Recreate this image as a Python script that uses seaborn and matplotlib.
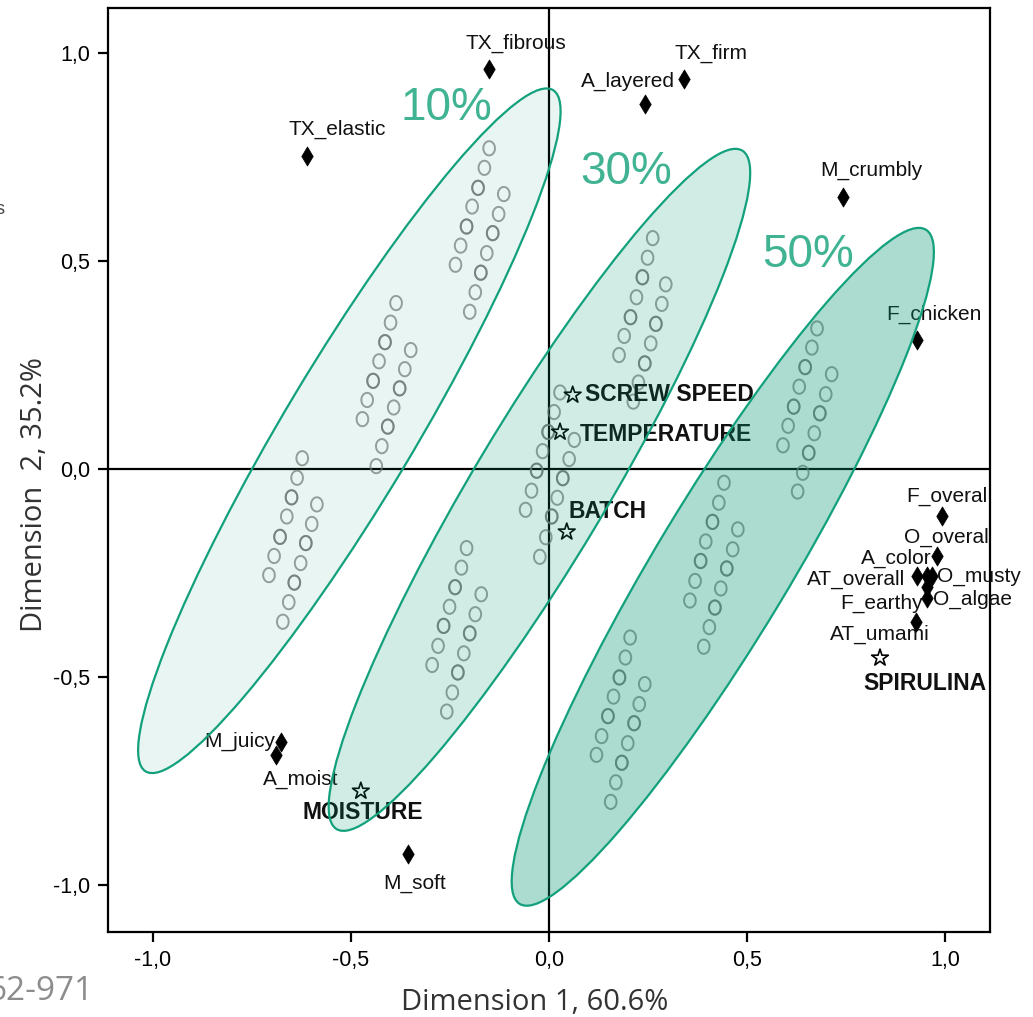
import numpy as np
import pandas as pd
import matplotlib
matplotlib.use("Agg")
import matplotlib.pyplot as plt
import seaborn as sns
from matplotlib.patches import Ellipse
from matplotlib.path import Path

# ---------------- data ----------------
# sensory attributes (black diamonds)
attr_names = ['TX_fibrous', 'TX_firm', 'A_layered', 'TX_elastic', 'M_crumbly',
              'F_chicken', 'F_overal', 'O_overal', 'A_color', 'AT_overall',
              'O_musty', 'O_algae', 'F_earthy', 'AT_umami', 'M_juicy',
              'A_moist', 'M_soft']
attr_x = [-0.152, 0.341, 0.242, -0.611, 0.742, 0.929, 0.992, 0.980, 0.955, 0.929,
          0.967, 0.955, 0.955, 0.927, -0.677, -0.689, -0.356]
attr_y = [0.963, 0.939, 0.878, 0.754, 0.655, 0.311, -0.112, -0.208, -0.256, -0.256,
          -0.256, -0.282, -0.309, -0.367, -0.655, -0.686, -0.924]

# process factors (open stars)
factor_names = ['SCREW SPEED', 'TEMPERATURE', 'BATCH', 'SPIRULINA', 'MOISTURE']
factor_x = [0.060, 0.028, 0.045, 0.836, -0.475]
factor_y = [0.179, 0.090, -0.150, -0.453, -0.773]

# samples (open circles) per spirulina level
levels = ['10%', '30%', '50%']
samples_x_10 = [-0.151, -0.163, -0.179, -0.194, -0.208, -0.223, -0.236,
                -0.114, -0.127, -0.142, -0.157, -0.172, -0.186, -0.200,
                -0.386, -0.400, -0.414, -0.429, -0.444, -0.459, -0.471,
                -0.349, -0.364, -0.377, -0.392, -0.407, -0.422, -0.436,
                -0.623, -0.636, -0.650, -0.662, -0.679, -0.694, -0.707,
                -0.586, -0.599, -0.614, -0.627, -0.643, -0.657, -0.672]
samples_y_10 = [0.772, 0.725, 0.677, 0.632, 0.584, 0.538, 0.492,
                0.662, 0.614, 0.568, 0.520, 0.473, 0.426, 0.379,
                0.400, 0.353, 0.306, 0.260, 0.213, 0.167, 0.121,
                0.287, 0.241, 0.195, 0.149, 0.103, 0.056, 0.008,
                0.027, -0.020, -0.067, -0.113, -0.162, -0.208, -0.254,
                -0.084, -0.131, -0.177, -0.225, -0.272, -0.319, -0.366]
samples_x_30 = [0.262, 0.249, 0.236, 0.221, 0.206, 0.190, 0.177,
                0.295, 0.285, 0.270, 0.257, 0.242, 0.226, 0.213,
                0.028, 0.013, -0.002, -0.016, -0.031, -0.044, -0.059,
                0.064, 0.051, 0.035, 0.021, 0.007, -0.008, -0.023,
                -0.208, -0.221, -0.237, -0.251, -0.266, -0.280, -0.295,
                -0.171, -0.186, -0.200, -0.215, -0.230, -0.244, -0.258]
samples_y_30 = [0.556, 0.509, 0.462, 0.414, 0.366, 0.321, 0.275,
                0.445, 0.398, 0.350, 0.303, 0.255, 0.209, 0.163,
                0.185, 0.138, 0.090, 0.044, -0.003, -0.051, -0.097,
                0.071, 0.025, -0.021, -0.068, -0.113, -0.163, -0.210,
                -0.189, -0.236, -0.283, -0.330, -0.376, -0.424, -0.470,
                -0.300, -0.348, -0.394, -0.442, -0.488, -0.536, -0.582]
samples_x_50 = [0.677, 0.664, 0.647, 0.632, 0.618, 0.604, 0.591,
                0.714, 0.699, 0.684, 0.670, 0.656, 0.641, 0.628,
                0.442, 0.429, 0.413, 0.396, 0.383, 0.369, 0.356,
                0.477, 0.464, 0.449, 0.434, 0.419, 0.405, 0.391,
                0.205, 0.193, 0.178, 0.163, 0.149, 0.133, 0.120,
                0.242, 0.228, 0.215, 0.199, 0.184, 0.169, 0.156]
samples_y_50 = [0.339, 0.293, 0.246, 0.199, 0.151, 0.105, 0.058,
                0.229, 0.181, 0.135, 0.087, 0.040, -0.008, -0.053,
                -0.032, -0.080, -0.126, -0.173, -0.220, -0.268, -0.315,
                -0.144, -0.192, -0.238, -0.286, -0.332, -0.379, -0.426,
                -0.404, -0.452, -0.500, -0.546, -0.593, -0.641, -0.686,
                -0.516, -0.564, -0.610, -0.658, -0.705, -0.752, -0.799]
# number of coinciding samples at each position of a row of 7
overlap = [1, 1, 2, 1, 2, 1, 1]

# confidence ellipses
ell_cx = [-0.504, -0.024, 0.439]
ell_cy = [0.093, -0.049, -0.234]
ell_a = [0.967, 0.963, 0.959]
ell_b = [0.163, 0.167, 0.168]
ell_angle = [57.8, 57.8, 57.6]

# ---------------- styling / label placement ----------------
# label offsets in pixels from the marker (right, down)
attr_off = {'TX_fibrous': (27, -25), 'TX_firm': (27, -25), 'A_layered': (-17, -23),
            'TX_elastic': (30, -26), 'M_crumbly': (29, -27), 'F_chicken': (17, -26),
            'F_overal': (5, -20), 'O_overal': (9, -19), 'A_color': (-31, -18),
            'AT_overall': (-61, 3), 'O_musty': (47, 1), 'O_algae': (45, 13),
            'F_earthy': (-46, 5), 'AT_umami': (-36, 12), 'M_juicy': (-41, -1),
            'A_moist': (25, 25), 'M_soft': (7, 30)}
factor_off = {'SCREW SPEED': (97, 0), 'TEMPERATURE': (106, 2), 'BATCH': (41, -20),
              'SPIRULINA': (45, 26), 'MOISTURE': (2, 21)}
level_label_pos = [(-0.260, 0.869), (0.194, 0.715), (0.654, 0.515)]
ell_alpha = [0.085, 0.18, 0.33]

# slightly tall open circle used by the sample markers
t = np.linspace(0, 2 * np.pi, 40)
oval = Path(np.column_stack([0.82 * np.cos(t), np.sin(t)]), closed=True)

sns.set_style('ticks')
plt.rcParams['font.family'] = ['Liberation Sans', 'DejaVu Sans']

fig = plt.figure(figsize=(10.33, 10.17), dpi=100)
ax = fig.add_axes([0.1045, 0.0836, 0.8538, 0.9086])

ax.axhline(0, color='black', lw=1.6, zorder=1)
ax.axvline(0, color='black', lw=1.6, zorder=1)

# samples
frames = []
counts = np.tile(overlap, 6)
for lev, xs, ys in zip(levels, [samples_x_10, samples_x_30, samples_x_50],
                       [samples_y_10, samples_y_30, samples_y_50]):
    frames.append(pd.DataFrame({'x': np.repeat(xs, counts), 'y': np.repeat(ys, counts), 'level': lev}))
samples = pd.concat(frames, ignore_index=True)
sns.scatterplot(data=samples, x='x', y='y', marker=oval, s=105, color='#767676',
                facecolor='none', edgecolor='#767676', linewidth=1.4, alpha=0.7,
                legend=False, ax=ax, zorder=2)

# attributes
attrs = pd.DataFrame({'name': attr_names, 'x': attr_x, 'y': attr_y})
sns.scatterplot(data=attrs, x='x', y='y', marker='d', s=95, color='black',
                edgecolor='black', linewidth=0.5, legend=False, ax=ax, zorder=4)
for _, r in attrs.iterrows():
    dx, dy = attr_off[r['name']]
    ax.annotate(r['name'], (r['x'], r['y']), xytext=(dx * 0.72, -dy * 0.72),
                textcoords='offset points', ha='center', va='center',
                fontsize=15, color='#111111', zorder=3)

# factors
facs = pd.DataFrame({'name': factor_names, 'x': factor_x, 'y': factor_y})
sns.scatterplot(data=facs, x='x', y='y', marker='*', s=160, color='black',
                facecolor='none', edgecolor='black', linewidth=1.2,
                legend=False, ax=ax, zorder=4)
for _, r in facs.iterrows():
    dx, dy = factor_off[r['name']]
    ax.annotate(r['name'], (r['x'], r['y']), xytext=(dx * 0.72, -dy * 0.72),
                textcoords='offset points', ha='center', va='center',
                fontsize=16.5, fontweight='bold', color='#111111', zorder=3)

# ellipses on top (translucent)
for i in range(3):
    e = Ellipse((ell_cx[i], ell_cy[i]), 2 * ell_a[i], 2 * ell_b[i], angle=ell_angle[i],
                facecolor=(0.0, 0.59, 0.43, ell_alpha[i]), edgecolor='#12A17C',
                lw=1.6, zorder=10)
    ax.add_patch(e)
    ax.text(level_label_pos[i][0], level_label_pos[i][1], levels[i], ha='center',
            va='center', fontsize=33, color='#40B393', zorder=11)

ax.set_xlim(-1.1136, 1.1136)
ax.set_ylim(-1.1118, 1.1094)
ticks = [-1.0, -0.5, 0.0, 0.5, 1.0]
ax.set_xticks(ticks)
ax.set_yticks(ticks)
ax.set_xticklabels([f'{v:.1f}'.replace('.', ',') for v in ticks])
ax.set_yticklabels([f'{v:.1f}'.replace('.', ',') for v in ticks])
ax.tick_params(direction='out', length=7, width=1.6, labelsize=15.5, colors='black', pad=6)
for sp in ax.spines.values():
    sp.set_linewidth(1.6)
    sp.set_color('black')

ax.set_xlabel('Dimension 1, 60.6%', fontsize=21, family=['Open Sans', 'DejaVu Sans'], color='#333333')
ax.set_ylabel('Dimension  2, 35.2%', fontsize=21, family=['Open Sans', 'DejaVu Sans'], color='#333333')
ax.xaxis.set_label_coords(0.484, -0.0758)
ax.yaxis.set_label_coords(-0.0828, 0.473)
ax.xaxis.label.set_va('center')
ax.yaxis.label.set_va('center')

# slide leftovers at the left edge (cut off in the original too)
fig.text(-0.004, 1 - 210 / 1017, 's', fontsize=13, color='#444444', va='center')
fig.text(-0.012, 1 - 991 / 1017, '62-971', fontsize=24, color='#8c8c8c', va='center',
         family=['Open Sans', 'DejaVu Sans'])

fig.savefig('out.png', dpi=100)
